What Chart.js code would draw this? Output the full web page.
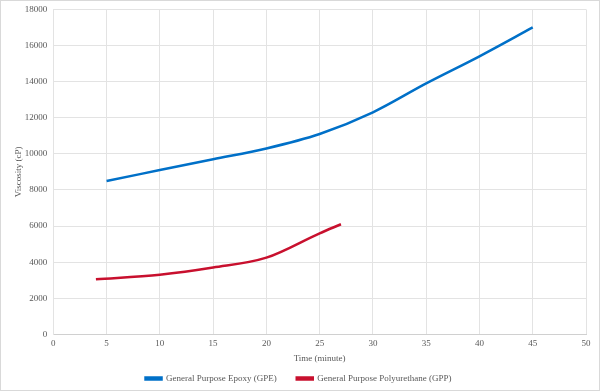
<!DOCTYPE html>
<html>
<head>
<meta charset="utf-8">
<script src="https://cdn.jsdelivr.net/npm/chart.js@4/dist/chart.umd.min.js"></script>
<style>
  html, body { margin: 0; padding: 0; background: #fff; }
  #wrap { width: 598px; height: 389px; border: 1px solid #d9d9d9; overflow: hidden; }
  #chart { display: block; margin-top: -3px; }
</style>
</head>
<body>
<div id="wrap"><canvas id="chart" width="598" height="392"></canvas></div>
<script>
// values
const gpeTime = [5, 10, 15, 20, 25, 30, 35, 40, 45];
const gpeViscosity = [8500, 9100, 9700, 10300, 11100, 12300, 13900, 15400, 17000];
const gppTime = [4, 10, 15, 20, 25, 27];
const gppViscosity = [3050, 3300, 3700, 4250, 5600, 6100];
const seriesNames = ["General Purpose Epoxy (GPE)", "General Purpose Polyurethane (GPP)"];

const toPoints = (xs, ys) => xs.map((x, i) => ({ x: x, y: ys[i] }));

const font = { family: "'Liberation Serif', 'Times New Roman', serif", size: 9 };
const grey = "#595959";

new Chart(document.getElementById("chart"), {
  type: "line",
  data: {
    datasets: [
      {
        label: seriesNames[0],
        data: toPoints(gpeTime, gpeViscosity),
        borderColor: "#0070c8",
        backgroundColor: "#0070c8",
        borderWidth: 2.5,
        pointRadius: 0,
        cubicInterpolationMode: "monotone",
      },
      {
        label: seriesNames[1],
        data: toPoints(gppTime, gppViscosity),
        borderColor: "#c8102e",
        backgroundColor: "#c8102e",
        borderWidth: 2.5,
        pointRadius: 0,
        cubicInterpolationMode: "monotone",
      },
    ],
  },
  options: {
    responsive: false,
    animation: false,
    layout: { padding: { left: 10, right: 13, top: 0, bottom: -3 } },
    plugins: {
      tooltip: { enabled: false },
      legend: {
        position: "bottom",
        labels: {
          font: font,
          color: grey,
          boxWidth: 16,
          boxHeight: 2,
          padding: 20,
        },
      },
    },
    scales: {
      x: {
        type: "linear",
        min: 0,
        max: 50,
        ticks: { stepSize: 5, font: font, color: grey, padding: 4 },
        grid: { color: "#e3e3e3", drawTicks: false },
        border: { color: "#d0d0d0" },
        title: { display: true, text: "Time (minute)", font: font, color: grey, padding: { top: 0, bottom: -10 } },
      },
      y: {
        min: 0,
        max: 18000,
        ticks: { stepSize: 2000, font: font, color: grey, padding: 6, callback: (v) => String(v) },
        grid: { color: "#e3e3e3", drawTicks: false },
        border: { color: "#e3e3e3" },
        title: { display: true, text: "Viscosity (cP)", font: font, color: grey, padding: { top: 2, bottom: -5 } },
      },
    },
  },
});
</script>
</body>
</html>
